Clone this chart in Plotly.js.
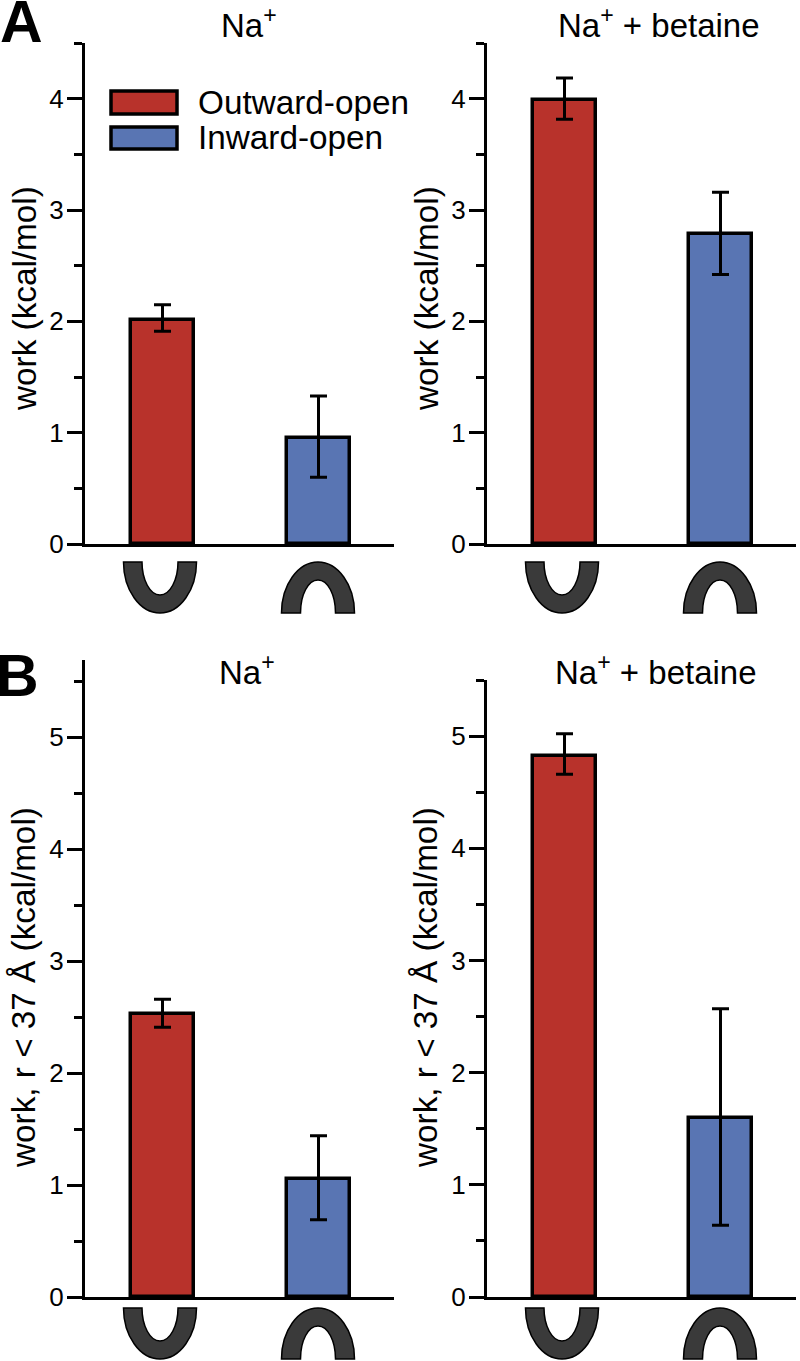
<!DOCTYPE html>
<html><head><meta charset="utf-8">
<script src="https://cdn.plot.ly/plotly-3.0.1.min.js"></script>
<style>html,body{margin:0;padding:0;background:#fff}</style></head>
<body><div id="chart" style="width:800px;height:1361px"></div>
<script>
const W = 800, H = 1361;
const conformations = ["Outward-open", "Inward-open"];
const barColors = ["#b8322b", "#5975b3"];
const panelTitles = ["Na<sup>+</sup>", "Na<sup>+</sup> + betaine", "Na<sup>+</sup>", "Na<sup>+</sup> + betaine"];
const yTitles = ["work (kcal/mol)", "work (kcal/mol)", "work, r < 37 Å (kcal/mol)", "work, r < 37 Å (kcal/mol)"];
const panelLetters = ["A", "B"];

const workANa = [2.015, 0.955];
const errUpANa = [0.135, 0.375];
const errDownANa = [0.105, 0.355];
const workABetaine = [3.99, 2.785];
const errUpABetaine = [0.195, 0.375];
const errDownABetaine = [0.175, 0.365];
const workBNa = [2.525, 1.055];
const errUpBNa = [0.135, 0.385];
const errDownBNa = [0.115, 0.365];
const workBBetaine = [4.825, 1.6];
const errUpBBetaine = [0.195, 0.97];
const errDownBBetaine = [0.165, 0.96];
const yMax = [4.5, 4.5, 5.69, 5.5];

const FONT = "Liberation Sans, Arial, sans-serif";
const frames = [
  {l:85, r:394, t:43, b:544},
  {l:487, r:796, t:43, b:544},
  {l:85, r:394, t:660, b:1297},
  {l:487, r:796, t:680, b:1297}
];
const values = [workANa, workABetaine, workBNa, workBBetaine];
const ups = [errUpANa, errUpABetaine, errUpBNa, errUpBBetaine];
const downs = [errDownANa, errDownABetaine, errDownBNa, errDownBBetaine];

const px = x => x / W, py = y => 1 - y / H;
const layout = {
  width: W, height: H, margin: {l:0, r:0, t:0, b:0},
  paper_bgcolor: "#fff", plot_bgcolor: "rgba(0,0,0,0)",
  showlegend: false, bargap: 0, font: {family: FONT, color: "#000"},
  shapes: [], annotations: []
};
const data = [];
const SPACING = 156, C0 = 77.5;

frames.forEach((f, i) => {
  const s = i === 0 ? "" : String(i + 1);
  data.push({
    type: "bar", xaxis: "x" + s, yaxis: "y" + s,
    x: [0, 1], y: values[i], width: 0.41, text: conformations, hoverinfo: "y+text", textposition: "none",
    marker: {color: barColors, line: {color: "#000", width: 3.5}},
    error_y: {type: "data", symmetric: false, array: ups[i], arrayminus: downs[i],
              color: "#000", thickness: 3, width: 8.5}
  });
  layout["xaxis" + s] = {
    domain: [px(f.l), px(f.r)], anchor: "y" + s,
    range: [-C0 / SPACING, (f.r - f.l - C0) / SPACING],
    showgrid: false, zeroline: false, showticklabels: false, ticks: "",
    showline: true, linewidth: 3, linecolor: "#000"
  };
  layout["yaxis" + s] = {
    domain: [py(f.b), py(f.t)], anchor: "x" + s, range: [0, yMax[i]],
    showgrid: false, zeroline: false, showline: true, linewidth: 3, linecolor: "#000",
    tick0: 0, dtick: 1, ticks: "outside", ticklen: 15, tickwidth: 3, tickcolor: "#000",
    tickfont: {size: 26, family: FONT}, ticklabelstandoff: -2,
    minor: {tick0: 0, dtick: 0.5, ticks: "outside", ticklen: 8, tickwidth: 3, tickcolor: "#000"}
  };
  // y axis title, placed to match the reference
  layout.annotations.push({
    xref: "paper", yref: "paper", x: px(f.l - 61), y: py(i < 2 ? 299 : 988), text: yTitles[i],
    showarrow: false, textangle: -90, xanchor: "center", yanchor: "middle",
    font: {size: 33.3, family: FONT}
  });
  // conformation glyphs below the bars
  const gy = i < 2 ? 562 : 1308, gh = 51;
  const u = (cx) => {
    const X = d => px(cx + d), Y = d => py(gy + d);
    return `M${X(-36.5)},${Y(0)} L${X(-18)},${Y(0)} C${X(-18)},${Y(18)} ${X(-10)},${Y(33)} ${X(0)},${Y(33)} ` +
           `C${X(10)},${Y(33)} ${X(18)},${Y(18)} ${X(18)},${Y(0)} L${X(36.5)},${Y(0)} ` +
           `C${X(36.5)},${Y(28)} ${X(20)},${Y(gh)} ${X(0)},${Y(gh)} C${X(-20)},${Y(gh)} ${X(-36.5)},${Y(28)} ${X(-36.5)},${Y(0)} Z`;
  };
  const n = (cx) => {
    const X = d => px(cx + d), Y = d => py(gy + gh - d);
    return `M${X(-36.5)},${Y(0)} L${X(-17.5)},${Y(0)} C${X(-17.5)},${Y(18)} ${X(-10)},${Y(33)} ${X(0)},${Y(33)} ` +
           `C${X(10)},${Y(33)} ${X(17.5)},${Y(18)} ${X(17.5)},${Y(0)} L${X(36.5)},${Y(0)} ` +
           `C${X(36.5)},${Y(28)} ${X(20)},${Y(gh)} ${X(0)},${Y(gh)} C${X(-20)},${Y(gh)} ${X(-36.5)},${Y(28)} ${X(-36.5)},${Y(0)} Z`;
  };
  [u(f.l + 75), n(f.l + 233)].forEach(path => layout.shapes.push({
    type: "path", xref: "paper", yref: "paper", path,
    fillcolor: "#3a3a3a", line: {color: "#000", width: 1.5}
  }));
});

// panel titles
const titleSpots = [[249, 23], [658.5, 23], [247, 670], [656, 670]];
titleSpots.forEach((t, i) => layout.annotations.push({
  xref: "paper", yref: "paper", x: px(t[0]), y: py(t[1]), text: panelTitles[i], showarrow: false,
  xanchor: "center", yanchor: "middle", font: {size: 33, family: FONT}
}));
// panel letters
[[0, 22, -2], [0, 676, -6]].forEach((t, i) => layout.annotations.push({
  xref: "paper", yref: "paper", x: px(t[0]), y: py(t[1]), text: "<b>" + panelLetters[i] + "</b>", showarrow: false,
  xanchor: "left", yanchor: "middle", xshift: t[2], font: {size: 59, family: FONT}
}));
// legend
[[91, 114, 102], [127, 149, 138]].forEach((r, i) => {
  layout.shapes.push({type: "rect", xref: "paper", yref: "paper", x0: px(111), x1: px(177), y0: py(r[0]), y1: py(r[1]),
    fillcolor: barColors[i], line: {color: "#000", width: 3.5}});
  layout.annotations.push({xref: "paper", yref: "paper", x: px(198), y: py(r[2]), text: conformations[i], showarrow: false,
    xanchor: "left", yanchor: "middle", xshift: -2, font: {size: 33.3, family: FONT}});
});

Plotly.newPlot("chart", data, layout, {displayModeBar: false, responsive: false});
</script></body></html>
